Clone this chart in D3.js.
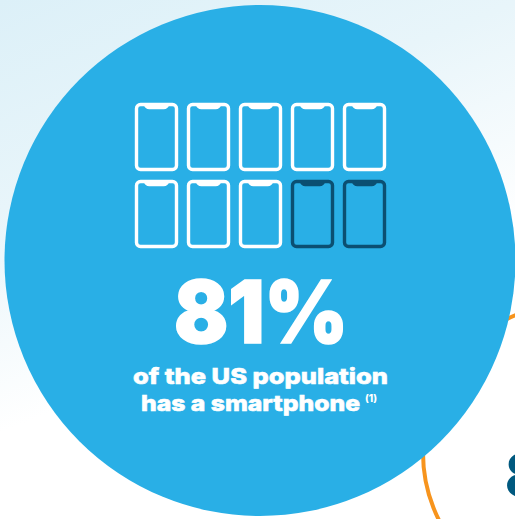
<!DOCTYPE html>
<html>
<head>
<meta charset="utf-8">
<style>
html, body { margin: 0; padding: 0; background: #fff; }
svg { display: block; }
text { font-family: Inter, "Open Sans", sans-serif; }
</style>
<script src="https://cdn.jsdelivr.net/npm/d3@7"></script>
</head>
<body>
<svg id="chart" width="515" height="519"></svg>
<script>
// Share of the US population owning a smartphone, as a pictogram of ten phones
const sharePercent = 81;
const phonesPerRow = 5;
const rowIndexes = [0, 1];
const columnIndexes = [0, 1, 2, 3, 4];
const phoneUnits = d3.range(rowIndexes.length * columnIndexes.length);
const headlineLabel = "81%";
const captionLines = ["of the US population", "has a smartphone"];
const footnoteMark = "(1)";

const width = 515, height = 519;
const svg = d3.select("#chart");
const defs = svg.append("defs");

const wash = defs.append("linearGradient").attr("id", "wash")
  .attr("x1", 0).attr("y1", 0).attr("x2", 0.4).attr("y2", 1);
wash.append("stop").attr("offset", "0").attr("stop-color", "#dcf0f8");
wash.append("stop").attr("offset", "0.35").attr("stop-color", "#e8f5fa");
wash.append("stop").attr("offset", "0.72").attr("stop-color", "#ffffff");
svg.append("rect").attr("width", width).attr("height", height).attr("fill", "url(#wash)");

// Neighbouring orange ring and its headline digit, cut off by the frame
const neighbour = svg.append("g");
neighbour.append("circle")
  .attr("cx", 572).attr("cy", 453).attr("r", 149)
  .attr("fill", "#fff").attr("stroke", "#f7941d").attr("stroke-width", 4);
neighbour.append("text")
  .attr("x", 505).attr("y", 497)
  .attr("font-size", 60).attr("font-weight", 900).attr("fill", "#00597f")
  .text("8");

// Main blue disc
svg.append("circle")
  .attr("cx", 260).attr("cy", 260.5).attr("r", 255.5)
  .attr("fill", "#29afe6");

// Pictogram grid
const x = d3.scaleBand().domain(columnIndexes).range([135, 386]).paddingInner(9 / 52).paddingOuter(0);
const y = d3.scaleBand().domain(rowIndexes).range([103, 248]).paddingInner(9 / 77).paddingOuter(0);
const filled = Math.round(sharePercent / 10);

// Phone outline with a notch along the top edge
function phonePath(w, h) {
  const r = 4, nw = w * 0.56, nd = 3, s = (w - nw) / 2;
  const p = d3.path();
  p.moveTo(r, 0);
  p.lineTo(w - r, 0);
  p.arcTo(w, 0, w, r, r);
  p.lineTo(w, h - r);
  p.arcTo(w, h, w - r, h, r);
  p.lineTo(r, h);
  p.arcTo(0, h, 0, h - r, r);
  p.lineTo(0, r);
  p.arcTo(0, 0, r, 0, r);
  p.closePath();
  p.moveTo(s, 0);
  p.quadraticCurveTo(s + 1, nd, s + 4, nd);
  p.lineTo(s + nw - 4, nd);
  p.quadraticCurveTo(s + nw - 1, nd, s + nw, 0);
  return p.toString();
}

svg.append("g").selectAll("path")
  .data(phoneUnits)
  .join("path")
  .attr("transform", d => `translate(${x(d % phonesPerRow) + 1.5},${y(Math.floor(d / phonesPerRow)) + 1.5})`)
  .attr("d", phonePath(x.bandwidth() - 3, y.bandwidth() - 3))
  .attr("fill", "none")
  .attr("stroke", d => d < filled ? "#ffffff" : "#0b4f72")
  .attr("stroke-width", 3.4);

// Headline and caption, stretched and thickened to the wide, heavy letterforms of the layout
svg.append("text")
  .attr("x", 174).attr("y", 343)
  .attr("textLength", 174).attr("lengthAdjust", "spacingAndGlyphs")
  .attr("font-size", 86).attr("font-weight", 900).attr("fill", "#fff")
  .attr("stroke", "#fff").attr("stroke-width", 1.6)
  .text(headlineLabel);

svg.append("text")
  .attr("x", 133).attr("y", 384)
  .attr("textLength", 255).attr("lengthAdjust", "spacingAndGlyphs")
  .attr("font-size", 22).attr("font-weight", 800).attr("fill", "#fff")
  .attr("stroke", "#fff").attr("stroke-width", 0.6)
  .text(captionLines[0]);

svg.append("text")
  .attr("x", 141).attr("y", 411)
  .attr("textLength", 219).attr("lengthAdjust", "spacingAndGlyphs")
  .attr("font-size", 22).attr("font-weight", 800).attr("fill", "#fff")
  .attr("stroke", "#fff").attr("stroke-width", 0.6)
  .text(captionLines[1]);

svg.append("text")
  .attr("x", 365).attr("y", 402)
  .attr("font-size", 10).attr("font-weight", 800).attr("fill", "#fff")
  .text(footnoteMark);
</script>
</body>
</html>
